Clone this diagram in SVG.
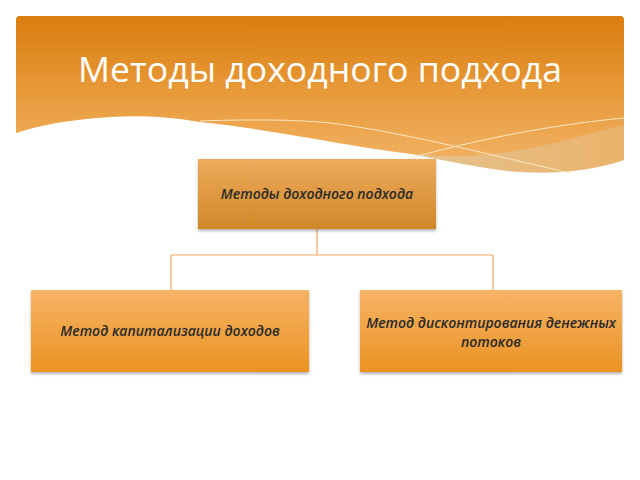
<svg xmlns="http://www.w3.org/2000/svg" width="640" height="480" viewBox="0 0 640 480">
<defs>
<linearGradient id="hdr" x1="0" y1="0" x2="0" y2="1">
<stop offset="0" stop-color="#d97d0f"/>
<stop offset="0.55" stop-color="#e89a3a"/>
<stop offset="1" stop-color="#f0b060"/>
</linearGradient>
<linearGradient id="tan" x1="0" y1="0" x2="1" y2="0">
<stop offset="0" stop-color="#e9cfa6"/>
<stop offset="0.6" stop-color="#e4c496"/>
<stop offset="1" stop-color="#eab36a"/>
</linearGradient>
<linearGradient id="rootg" x1="0" y1="0" x2="0" y2="1">
<stop offset="0" stop-color="#eeaa5c"/>
<stop offset="1" stop-color="#d08828"/>
</linearGradient>
<linearGradient id="leafg" x1="0" y1="0" x2="0" y2="1">
<stop offset="0" stop-color="#f6b466"/>
<stop offset="1" stop-color="#eb9222"/>
</linearGradient>
<filter id="sh" x="-5%" y="-10%" width="110%" height="130%">
<feDropShadow dx="0" dy="2" stdDeviation="1.5" flood-color="#000" flood-opacity="0.3"/>
</filter>
</defs>
<style>
.node{filter:url(#sh)}
.lbl{font-family:"Open Sans","Liberation Sans",sans-serif;font-style:italic;font-weight:600;font-size:14px;fill:#2a2a2a;text-anchor:middle}
.con{fill:none;stroke:#f0a860;stroke-width:1.2}
</style>
<g id="header">
<path d="M20,16 H620 Q624,16 624,20 V160 C590,172 540,176 500,170 C420,158 300,128 200,122 C140,110 60,118 16,133 V20 Q16,16 20,16 Z" fill="url(#tan)"/>
<path d="M20,16 H620 Q624,16 624,20 V125 C590,132 540,152 470,156 C400,160 300,132 200,122 C140,110 60,118 16,133 V20 Q16,16 20,16 Z" fill="url(#hdr)"/>
<path d="M200,121 C260,119 300,120 330,123 C400,132 470,150 570,173" fill="none" stroke="#fbe6c4" stroke-width="1"/>
<path d="M410,158 C470,142 540,126 624,118" fill="none" stroke="#fbe6c4" stroke-width="1"/>
<text x="320" y="82" font-family="Open Sans, Liberation Sans, sans-serif" font-size="35" fill="#ffffff" text-anchor="middle" textLength="484" lengthAdjust="spacingAndGlyphs">Методы доходного подхода</text>
</g>
<g id="connectors">
<path class="con" d="M317,229 V255 M171,255 H493 M171,255 V290 M493,255 V290"/>
</g>
<g id="root">
<rect class="node" x="198" y="159" width="238" height="70" fill="url(#rootg)"/>
<text class="lbl" x="317" y="199">Методы доходного подхода</text>
</g>
<g id="left">
<rect class="node" x="31" y="290" width="278" height="82" fill="url(#leafg)"/>
<text class="lbl" x="170" y="336">Метод капитализации доходов</text>
</g>
<g id="right">
<rect class="node" x="360" y="290" width="262" height="82" fill="url(#leafg)"/>
<text class="lbl" x="491" y="328">Метод дисконтирования денежных</text>
<text class="lbl" x="491" y="347">потоков</text>
</g>
</svg>
